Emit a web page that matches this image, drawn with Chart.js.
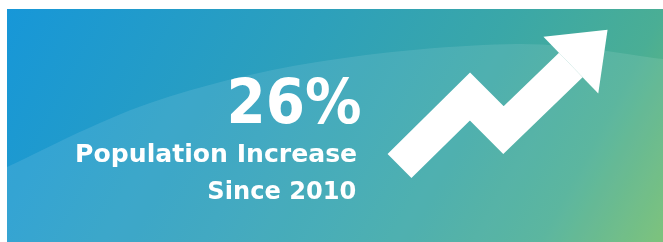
<!DOCTYPE html>
<html><head><meta charset="utf-8">
<script src="https://cdn.jsdelivr.net/npm/chart.js@4.4.0/dist/chart.umd.min.js"></script>
<style>
html,body{margin:0;padding:0;background:#fff;overflow:hidden}
#wrap{position:relative;width:663px;height:242px}
canvas{position:absolute;left:0;top:0}
.t{position:absolute;color:#fff;font-family:"DejaVu Sans",sans-serif;font-weight:bold;white-space:nowrap;line-height:1;text-align:right;transform-origin:100% 50%}
</style></head><body>
<div id="wrap"><canvas id="c" width="663" height="242"></canvas>
<div class="t" id="big"></div><div class="t" id="l1"></div><div class="t" id="l2"></div></div>
<script>
// ---- data ----
const increasePct = 26;
const baseYear = 2010;
const captionLines = ['Population Increase', 'Since ' + baseYear];
const trendX = [0, 2.06, 3.04, 5.01];
const trendY = [0, 2.03, 1.05, 2.95];

// ---- layout ----
const W = 663, H = 242;
const card = {x: 7, y: 9, w: 656, h: 233};
const origin = {x: 399.5, y: 166}, unit = 34.2;

const bgPlugin = {
  id: 'bg',
  beforeDraw(chart) {
    const ctx = chart.ctx;
    ctx.save();
    ctx.fillStyle = '#fff';
    ctx.fillRect(0, 0, W, H);
    const g = ctx.createLinearGradient(card.x, card.y, card.x + 656, card.y + 350);
    g.addColorStop(0, '#1797d8');
    g.addColorStop(0.38, '#2da0bb');
    g.addColorStop(0.6, '#3aa7a8');
    g.addColorStop(0.78, '#4aae95');
    g.addColorStop(0.93, '#70bc6d');
    g.addColorStop(1, '#74be6a');
    ctx.fillStyle = g;
    ctx.fillRect(card.x, card.y, card.w, card.h);
    // soft wave
    const p = [[7,167],[150,103],[317,62],[517,44],[663,59]];
    ctx.beginPath();
    ctx.moveTo(p[0][0], p[0][1]);
    for (let i = 0; i < p.length - 1; i++) {
      const p0 = p[Math.max(i-1,0)], p1 = p[i], p2 = p[i+1], p3 = p[Math.min(i+2,p.length-1)];
      ctx.bezierCurveTo(p1[0] + (p2[0]-p0[0])/6, p1[1] + (p2[1]-p0[1])/6,
                        p2[0] - (p3[0]-p1[0])/6, p2[1] - (p3[1]-p1[1])/6, p2[0], p2[1]);
    }
    ctx.lineTo(663, 242); ctx.lineTo(7, 242); ctx.closePath();
    ctx.fillStyle = 'rgba(255,255,255,0.10)';
    ctx.fill();
    ctx.restore();
  }
};

const headPlugin = {
  id: 'arrowHead',
  afterDatasetsDraw(chart) {
    const pts = chart.getDatasetMeta(0).data;
    const a = pts[pts.length - 2], b = pts[pts.length - 1];
    let dx = b.x - a.x, dy = b.y - a.y;
    const L = Math.hypot(dx, dy); dx /= L; dy /= L;
    const px = -dy, py = dx;
    const half = 39.5, len = 51;
    const ctx = chart.ctx;
    ctx.save();
    ctx.fillStyle = '#fff';
    ctx.beginPath();
    ctx.moveTo(b.x + px * half, b.y + py * half);
    ctx.lineTo(b.x + dx * len, b.y + dy * len);
    ctx.lineTo(b.x - px * half, b.y - py * half);
    ctx.closePath();
    ctx.fill();
    ctx.restore();
  }
};

new Chart(document.getElementById('c'), {
  type: 'line',
  data: {
    datasets: [{
      data: trendX.map((x, i) => ({x, y: trendY[i]})),
      borderColor: '#fff',
      borderWidth: 34,
      borderJoinStyle: 'miter',
      borderCapStyle: 'butt',
      pointRadius: 0,
      tension: 0,
      fill: false,
      clip: false
    }]
  },
  options: {
    responsive: false,
    animation: false,
    events: [],
    layout: {padding: 0},
    plugins: {legend: {display: false}, tooltip: {enabled: false}},
    scales: {
      x: {type: 'linear', display: false, min: -origin.x / unit, max: (W - origin.x) / unit},
      y: {type: 'linear', display: false, min: (origin.y - H) / unit, max: origin.y / unit}
    }
  },
  plugins: [bgPlugin, headPlugin]
});

// ---- text ----
const texts = [
  {id: 'big', text: increasePct + '%', size: 62, baseline: 123.3, right: 361.7, width: 135},
  {id: 'l1', text: captionLines[0], size: 24.5, baseline: 162.7, right: 356.7, width: 282},
  {id: 'l2', text: captionLines[1], size: 24.5, baseline: 200, right: 356, width: 149}
];
const mc = document.createElement('canvas').getContext('2d');
texts.forEach(t => {
  const el = document.getElementById(t.id);
  el.textContent = t.text;
  mc.font = 'bold ' + t.size + 'px "DejaVu Sans"';
  const w = mc.measureText(t.text).width;
  el.style.fontSize = t.size + 'px';
  el.style.right = (W - t.right) + 'px';
  el.style.top = (t.baseline - 0.846 * t.size) + 'px';
  el.style.transform = 'scaleX(' + (t.width / w) + ')';
});
</script>
</body></html>
